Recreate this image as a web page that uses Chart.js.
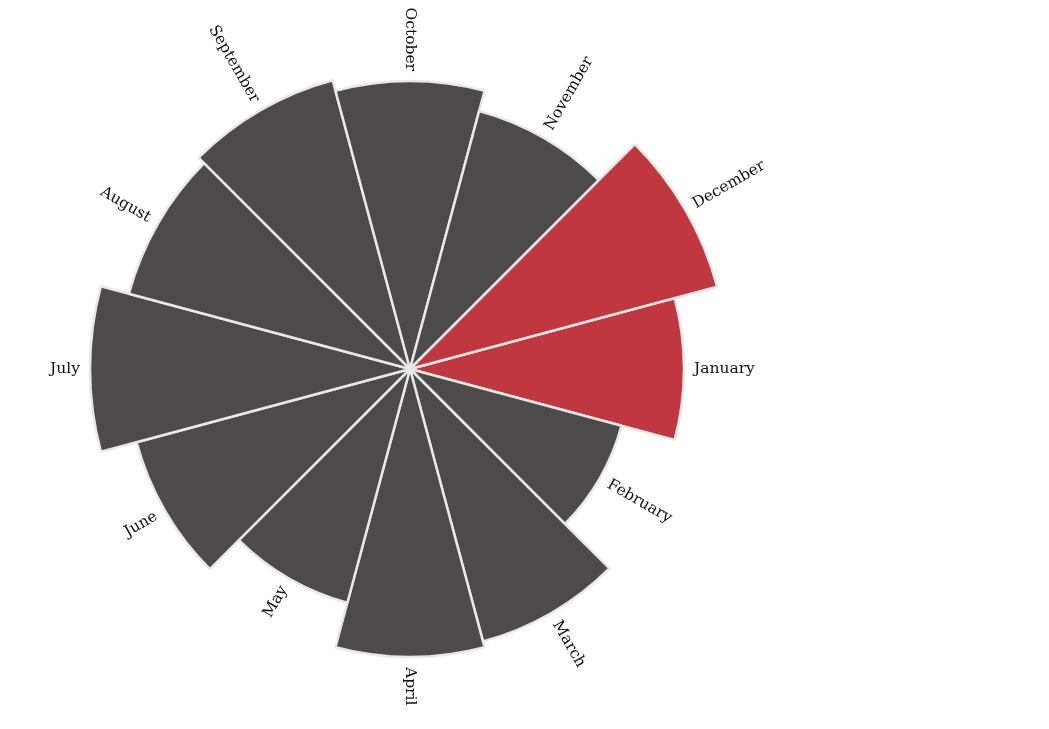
<!DOCTYPE html>
<html>
<head>
<meta charset="utf-8">
<style>
  html, body { margin: 0; padding: 0; background: #ffffff; }
  #wrap { width: 1049px; height: 729px; }
</style>
<script src="https://cdn.jsdelivr.net/npm/chart.js@4/dist/chart.umd.min.js"></script>
</head>
<body>
<div id="wrap"><canvas id="c" width="1049" height="729"></canvas></div>
<script>
const months = ["January","February","March","April","May","June","July","August","September","October","November","December"];
const values = [274, 219, 282, 288, 242, 283, 320, 291, 299, 288, 267, 318];
const highlighted = ["December","January"];

const GRAY = "#4d4a4b";
const RED = "#c0373f";

const labelPlugin = {
  id: "radialLabels",
  afterDatasetsDraw(chart) {
    const ctx = chart.ctx;
    const meta = chart.getDatasetMeta(0);
    ctx.save();
    ctx.font = "15.5px 'DejaVu Serif'";
    ctx.fillStyle = "#111111";
    ctx.textBaseline = "middle";
    meta.data.forEach((arc, i) => {
      const p = arc.getProps(["x","y","startAngle","endAngle","outerRadius"], true);
      const mid = (p.startAngle + p.endAngle) / 2;
      const r = p.outerRadius + 10;
      const x = p.x + Math.cos(mid) * r;
      const y = p.y + Math.sin(mid) * r;
      let a = Math.atan2(Math.sin(mid), Math.cos(mid));
      const eps = 1e-6;
      const right = a > -Math.PI / 2 + eps && a <= Math.PI / 2 + eps;
      ctx.save();
      ctx.translate(x, y);
      if (right) {
        ctx.rotate(a);
        ctx.textAlign = "left";
      } else {
        ctx.rotate(a - Math.PI);
        ctx.textAlign = "right";
      }
      ctx.fillText(months[i], 0, 0);
      ctx.restore();
    });
    ctx.restore();
  }
};

new Chart(document.getElementById("c"), {
  type: "polarArea",
  data: {
    labels: months,
    datasets: [{
      data: values,
      backgroundColor: months.map(m => highlighted.includes(m) ? RED : GRAY),
      borderColor: "#e8e8e8",
      borderWidth: 2.5
    }]
  },
  options: {
    responsive: false,
    animation: false,
    devicePixelRatio: 1,
    layout: { padding: { left: 50, right: 279, top: 9, bottom: 0 } },
    plugins: { legend: { display: false }, tooltip: { enabled: false } },
    scales: {
      r: {
        min: 0,
        max: 360,
        startAngle: 75,
        ticks: { display: false },
        grid: { display: false },
        angleLines: { display: false },
        pointLabels: { display: false }
      }
    }
  },
  plugins: [labelPlugin]
});
</script>
</body>
</html>
